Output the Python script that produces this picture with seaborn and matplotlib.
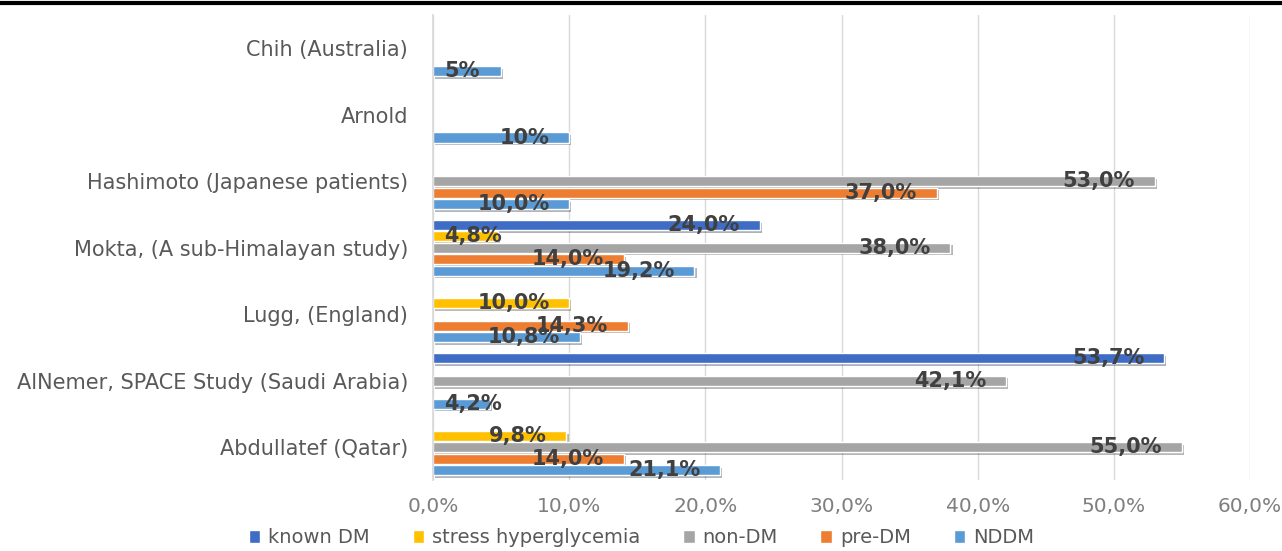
import numpy as np
import pandas as pd
import matplotlib.pyplot as plt
import matplotlib.patheffects as pe
from matplotlib.lines import Line2D
import seaborn as sns

sns.set_theme(style="white")
plt.rcParams['font.family'] = ['DejaVu Sans']

# data, top to bottom
studies = ["Chih (Australia)", "Arnold", "Hashimoto (Japanese patients)",
           "Mokta, (A sub-Himalayan study)", "Lugg, (England)",
           "AlNemer, SPACE Study (Saudi Arabia)", "Abdullatef (Qatar)"]
known_dm = [np.nan, np.nan, np.nan, 24.0, np.nan, 53.7, np.nan]
stress_hyper = [np.nan, np.nan, np.nan, 4.8, 10.0, np.nan, 9.8]
non_dm = [np.nan, np.nan, 53.0, 38.0, np.nan, 42.1, 55.0]
pre_dm = [np.nan, np.nan, 37.0, 14.0, 14.3, np.nan, 14.0]
nddm = [5.0, 10.0, 10.0, 19.2, 10.8, 4.2, 21.1]
label_decimals = [0, 0, 1, 1, 1, 1, 1]

groups = ["known DM", "stress hyperglycemia", "non-DM", "pre-DM", "NDDM"]
colors = ["#3F6CC4", "#FFC000", "#A5A5A5", "#ED7D31", "#5B9BD5"]

rows = []
for name, vals in zip(groups, [known_dm, stress_hyper, non_dm, pre_dm, nddm]):
    for s, v in zip(studies, vals):
        rows.append({"study": s, "group": name, "value": v})
df = pd.DataFrame(rows).dropna()

fig = plt.figure(figsize=(12.82, 5.51), dpi=100)
ax = fig.add_axes([0.3378, 0.128, 0.6372, 0.845])

sns.barplot(data=df, x="value", y="study", hue="group", order=studies,
            hue_order=groups, palette=colors, orient="h", width=0.86,
            gap=0.12, errorbar=None, ax=ax, saturation=1)

shadow = [pe.SimplePatchShadow(offset=(1.5, -2), alpha=0.35), pe.Normal()]
for p in ax.patches:
    p.set_path_effects(shadow)
    w = p.get_width()
    if np.isnan(w) or w == 0:
        continue
    yc = p.get_y() + p.get_height() / 2
    idx = int(round(yc))
    txt = f"{w:.{label_decimals[idx]}f}".replace(".", ",") + "%"
    if w < 6:
        ax.text(0.8, yc, txt, ha="left", va="center", fontsize=15,
                fontweight="bold", color="#404040")
    else:
        ax.text(w - 1.45, yc, txt, ha="right", va="center", fontsize=15,
                fontweight="bold", color="#404040")

ax.set_xlim(0, 60)
ax.set_xticks(np.arange(0, 61, 10))
ax.set_xticklabels([f"{t:.1f}".replace(".", ",") + "%" for t in np.arange(0, 61, 10)],
                   color="#7F7F7F", fontsize=14.5)
ax.tick_params(axis="y", labelsize=15, labelcolor="#595959", length=0, pad=18)
ax.tick_params(axis="x", length=0, pad=12)
ax.set_xlabel("")
ax.set_ylabel("")
ax.grid(axis="x", color="#D9D9D9", linewidth=1)
ax.set_axisbelow(True)
for side in ["top", "right", "bottom"]:
    ax.spines[side].set_visible(False)
ax.spines["left"].set_color("#D9D9D9")

sns.move_legend(ax, "center", bbox_to_anchor=(0.255, -0.123), ncol=5,
                frameon=False, title=None, fontsize=14, handlelength=0.6,
                handleheight=0.6, columnspacing=2.2, handletextpad=0.4,
                borderaxespad=0)
for t in ax.get_legend().get_texts():
    t.set_color("#595959")

fig.add_artist(Line2D([0, 1], [0.995, 0.995], color="black", linewidth=3,
                      transform=fig.transFigure))

plt.savefig("out.png", dpi=100)
